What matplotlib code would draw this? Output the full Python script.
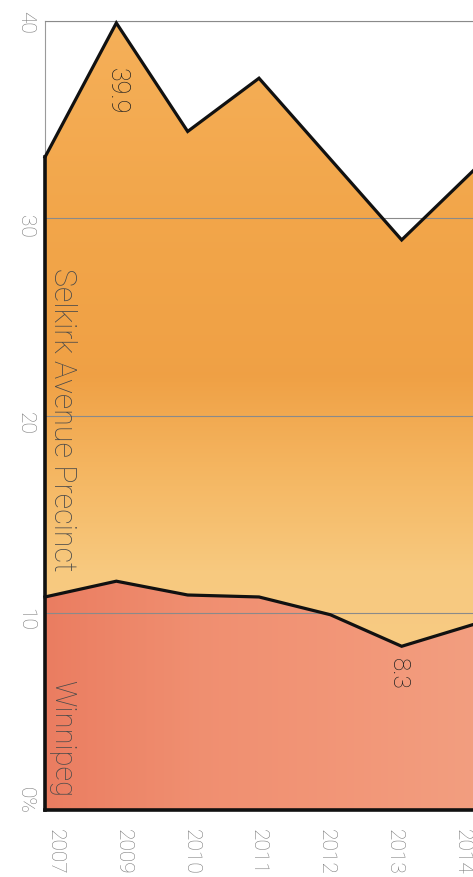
import numpy as np
import matplotlib
matplotlib.use("Agg")
import matplotlib.pyplot as plt
from matplotlib.transforms import ScaledTranslation

# ---- data ----
YEARS = ["2007", "2009", "2010", "2011", "2012", "2013", "2014"]
SELKIRK = [33.1, 39.9, 34.4, 37.1, 33.0, 28.9, 32.4]
WINNIPEG = [10.8, 11.6, 10.9, 10.8, 9.9, 8.3, 9.4]
Y_TICKS = [0, 10, 20, 30, 40]
Y_LABELS = ["0%", "10", "20", "30", "40"]

plt.rcParams["font.family"] = ["Roboto", "DejaVu Sans"]
plt.rcParams["font.weight"] = "light"

fig = plt.figure(figsize=(4.73, 8.77), dpi=100)
ax = fig.add_axes([45 / 473, 67 / 877, 1 - 45 / 473, 789 / 877])
x = np.arange(len(YEARS))


def _grad_fill(lo, hi, pos, stops, horizontal=False):
    """fill_between, then a clipped gradient image on top (watercolour stand-in)."""
    poly = ax.fill_between(x, lo, hi, color=stops[len(stops) // 2], lw=0, zorder=1)
    t = np.linspace(0, 1, 256)
    cols = np.array([np.interp(t, pos, [c[i] for c in stops]) for i in range(3)]).T
    img = cols[None, :, :] if horizontal else cols[:, None, :]
    im = ax.imshow(img, extent=[0, 6, 0, 40], aspect="auto", origin="lower",
                   zorder=1.2, interpolation="bilinear")
    im.set_clip_path(poly.get_paths()[0], transform=ax.transData)


# orange: pale/yellowish just above Winnipeg, deeper orange mid, a bit lighter on top
_grad_fill(WINNIPEG, SELKIRK, [0, 0.30, 0.42, 0.55, 0.75, 1.0],
           [(0.97, 0.80, 0.53), (0.97, 0.79, 0.50), (0.96, 0.72, 0.39),
            (0.94, 0.63, 0.27), (0.95, 0.65, 0.29), (0.96, 0.69, 0.35)])
# red/salmon: deeper on the left, lighter to the right
_grad_fill([0] * len(x), WINNIPEG, [0, 0.35, 0.7, 1.0],
           [(0.92, 0.49, 0.38), (0.94, 0.56, 0.44), (0.95, 0.59, 0.47), (0.95, 0.62, 0.50)],
           horizontal=True)

ax.plot(x, SELKIRK, color="#111111", lw=2.3, zorder=3, clip_on=False, solid_joinstyle="miter")
ax.plot(x, WINNIPEG, color="#111111", lw=2.3, zorder=3, clip_on=False, solid_joinstyle="miter")
ax.plot([0, 0], [0, SELKIRK[0]], color="#111111", lw=2.6, zorder=3, clip_on=False)

ax.set_xlim(0, 6)
ax.set_ylim(0, 40)
ax.set_axisbelow(False)
ax.yaxis.grid(True, color="#8a8a8a", lw=0.8)
ax.xaxis.grid(False)
for side in ("top", "left"):
    ax.spines[side].set_color("#9a9a9a")
    ax.spines[side].set_linewidth(0.8)
ax.spines["right"].set_visible(False)
ax.spines["bottom"].set_color("#111111")
ax.spines["bottom"].set_linewidth(2.6)
ax.spines["bottom"].set_zorder(3)

# ticks (everything is rotated a quarter turn clockwise)
lab_pos = np.linspace(0.14, 5.85, len(YEARS))
ax.set_xticks(lab_pos, YEARS, rotation=270, rotation_mode="anchor", ha="left", va="center",
              color="#7a7a7a", fontsize=15)
ax.tick_params(axis="x", length=0, pad=14)
ax.set_yticks(Y_TICKS, Y_LABELS, rotation=270, rotation_mode="anchor", ha="center", va="center",
              color="#7a7a7a", fontsize=15)
ax.tick_params(axis="y", length=0, pad=14)
for lab, dy in zip(ax.get_yticklabels(), [-10, 7, 8, 8, 1]):
    lab.set_transform(lab.get_transform() + ScaledTranslation(0, -dy / 100, fig.dpi_scale_trans))

# series + value labels
ax.text(0.24, 27.5, "Selkirk Avenue Precinct", rotation=270, rotation_mode="anchor", ha="left", va="center",
        color="#4a4a4a", fontsize=22, zorder=4)
ax.text(0.24, 6.6, "Winnipeg", rotation=270, rotation_mode="anchor", ha="left", va="center",
        color="#4a4a4a", fontsize=21, zorder=4)
ax.annotate(f"{SELKIRK[1]}", (x[1], SELKIRK[1]), xytext=(0, -45), textcoords="offset pixels",
            rotation=270, rotation_mode="anchor", ha="left", va="center", color="#222222",
            fontsize=18, zorder=4)
ax.annotate(f"{WINNIPEG[5]}", (x[5], WINNIPEG[5]), xytext=(-3, -12), textcoords="offset pixels",
            rotation=270, rotation_mode="anchor", ha="left", va="center", color="#222222",
            fontsize=17.5, zorder=4)

fig.savefig("out.png", dpi=100)
